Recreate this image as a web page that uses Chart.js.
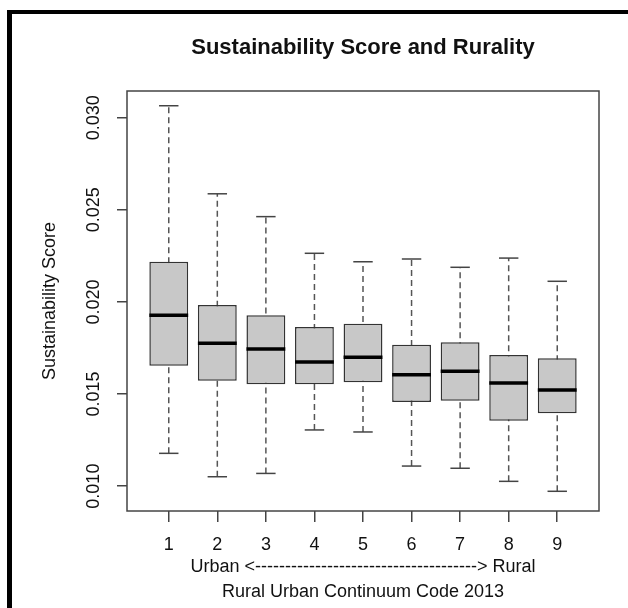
<!DOCTYPE html>
<html>
<head>
<meta charset="utf-8">
<script src="https://cdn.jsdelivr.net/npm/chart.js@4.4.1/dist/chart.umd.min.js"></script>
<style>
  html, body { margin: 0; padding: 0; background: #fff; }
  #wrap { width: 628px; height: 608px; }
</style>
</head>
<body>
<div id="wrap"><canvas id="chart" width="628" height="608"></canvas></div>
<script>
// Rural Urban Continuum Code 1..9
const codes       = [1, 2, 3, 4, 5, 6, 7, 8, 9];
const whiskerLow  = [0.01178, 0.01051, 0.01069, 0.01305, 0.01294, 0.01109, 0.01097, 0.01026, 0.00972];
const q1          = [0.01654, 0.01572, 0.01553, 0.01553, 0.01564, 0.01457, 0.01464, 0.01355, 0.01395];
const medians     = [0.01927, 0.01775, 0.01744, 0.01674, 0.01699, 0.01605, 0.01623, 0.01560, 0.01522];
const q3          = [0.02218, 0.01983, 0.01927, 0.01864, 0.01882, 0.01768, 0.01781, 0.01712, 0.01694];
const whiskerHigh = [0.03065, 0.02587, 0.02463, 0.02264, 0.02218, 0.02233, 0.02188, 0.02238, 0.02112];
const yTicks      = [0.010, 0.015, 0.020, 0.025, 0.030];

const FONT = "'Liberation Sans', Arial, sans-serif";
const TEXT = '#111';
const LINE = '#444';

// half width in pixels of a span of x units (box = 0.4, cap = 0.2)
function halfWidth(units) {
  return (ctx) => {
    const s = ctx.chart.scales.x;
    return Math.abs(s.getPixelForValue(units) - s.getPixelForValue(0));
  };
}

// whiskers: one dashed segment per code, split by null gaps
const whiskerData = [];
codes.forEach((c, i) => {
  whiskerData.push({ x: c, y: whiskerLow[i] }, { x: c, y: whiskerHigh[i] }, { x: c, y: null });
});
const capData = [];
codes.forEach((c, i) => {
  capData.push({ x: c, y: whiskerLow[i] }, { x: c, y: whiskerHigh[i] });
});

// outer black frame + plot box
const framePlugin = {
  id: 'frame',
  beforeDraw(chart) {
    const { ctx, width, height } = chart;
    ctx.save();
    ctx.fillStyle = '#fff';
    ctx.fillRect(0, 0, width, height);
    ctx.fillStyle = '#000';
    ctx.fillRect(7, 10, width - 7, 4);
    ctx.fillRect(7, 10, 5, height - 10);
    ctx.restore();
  },
  afterDatasetsDraw(chart) {
    const { ctx, chartArea: { left, top, right, bottom } } = chart;
    ctx.save();
    ctx.strokeStyle = LINE;
    ctx.lineWidth = 1.5;
    ctx.strokeRect(left, top, right - left, bottom - top);
    ctx.restore();
  }
};

new Chart(document.getElementById('chart'), {
  type: 'bar',
  data: {
    datasets: [
      {
        type: 'scatter',
        data: codes.map((c, i) => ({ x: c, y: medians[i] })),
        pointStyle: 'line',
        pointRadius: halfWidth(0.4),
        pointHoverRadius: halfWidth(0.4),
        pointBorderColor: '#000',
        pointBorderWidth: 3.5,
        pointHoverBorderWidth: 3.5,
        order: 0
      },
      {
        type: 'scatter',
        data: capData,
        pointStyle: 'line',
        pointRadius: halfWidth(0.2),
        pointHoverRadius: halfWidth(0.2),
        pointBorderColor: LINE,
        pointBorderWidth: 1.5,
        order: 1
      },
      {
        type: 'bar',
        data: codes.map((c, i) => ({ x: c, y: [q1[i], q3[i]] })),
        backgroundColor: '#c8c8c8',
        borderColor: '#333',
        borderWidth: 1.5,
        borderSkipped: false,
        barPercentage: 0.8,
        categoryPercentage: 1,
        order: 2
      },
      {
        type: 'line',
        data: whiskerData,
        borderColor: '#555',
        borderWidth: 1.5,
        borderDash: [6, 4],
        pointRadius: 0,
        spanGaps: false,
        fill: false,
        order: 3
      }
    ]
  },
  plugins: [framePlugin],
  options: {
    responsive: false,
    animation: false,
    events: [],
    layout: { padding: { top: 0, left: 0, right: 29, bottom: 0 } },
    plugins: {
      legend: { display: false },
      tooltip: { enabled: false },
      title: {
        display: true,
        fullSize: false,
        text: 'Sustainability Score and Rurality',
        color: TEXT,
        font: { family: FONT, size: 22, weight: 'bold', lineHeight: 1.2 },
        padding: { top: 35, bottom: 29.6 }
      }
    },
    scales: {
      x: {
        type: 'linear',
        offset: false,
        min: 0.14,
        max: 9.86,
        afterBuildTicks: (s) => { s.ticks = codes.map(v => ({ value: v })); },
        afterFit: (s) => { s.height = 97; },
        grid: { offset: false, drawOnChartArea: false, drawTicks: true, tickLength: 11, color: LINE, lineWidth: 1.5 },
        border: { display: false },
        ticks: {
          autoSkip: false, maxRotation: 0, padding: 12, color: TEXT,
          font: { family: FONT, size: 18 }
        },
        title: {
          display: true,
          text: ['Urban <' + '-'.repeat(37) + '> Rural', 'Rural Urban Continuum Code 2013'],
          color: TEXT,
          font: { family: FONT, size: 18, lineHeight: 1.42 },
          padding: { top: 0, bottom: 2.75 }
        }
      },
      y: {
        type: 'linear',
        min: 0.00865,
        max: 0.03145,
        afterBuildTicks: (s) => { s.ticks = yTicks.map(v => ({ value: v })); },
        afterFit: (s) => { s.width = 127; },
        grid: { drawOnChartArea: false, drawTicks: true, tickLength: 10, color: LINE, lineWidth: 1.5 },
        border: { display: false },
        ticks: {
          autoSkip: false, minRotation: 90, maxRotation: 90, crossAlign: 'center', padding: 0,
          color: TEXT, font: { family: FONT, size: 18 },
          callback: (v) => v.toFixed(3)
        },
        title: {
          display: true,
          text: 'Sustainability Score',
          color: TEXT,
          font: { family: FONT, size: 18 },
          padding: { top: 39, bottom: 0 }
        }
      }
    }
  }
});
</script>
</body>
</html>
